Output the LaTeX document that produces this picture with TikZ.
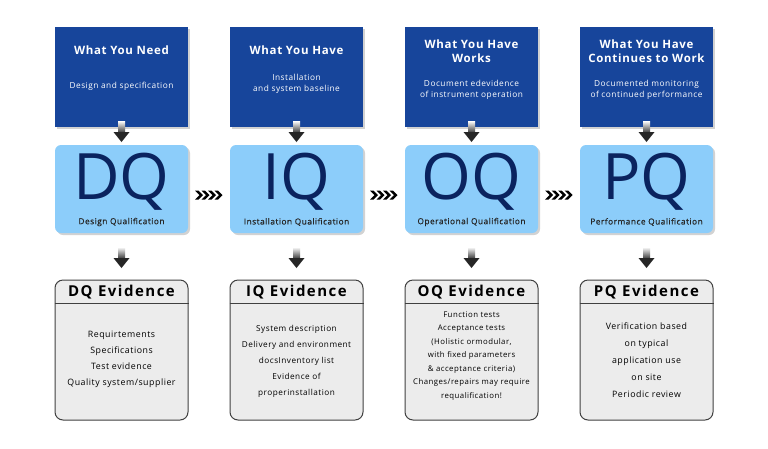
\documentclass[tikz,border=0pt]{standalone}
\usepackage{fontspec}
\setmainfont{Open Sans}
\usetikzlibrary{shadows,calc}
\definecolor{topblue}{RGB}{23,69,155}
\definecolor{midblue}{RGB}{140,205,250}
\definecolor{qtext}{RGB}{10,35,95}
\definecolor{evgray}{RGB}{236,236,236}
\newcommand{\lsp}{\addfontfeatures{LetterSpace=6}}
\tikzset{
 px/.style={x=1pt,y=-1pt},
 topbox/.style={fill=topblue,minimum width=133pt,minimum height=100pt,inner sep=0pt,drop shadow={opacity=0.35,shadow xshift=2pt,shadow yshift=-2pt}},
 midbox/.style={fill=midblue,rounded corners=6pt,minimum width=133pt,minimum height=88pt,inner sep=0pt,drop shadow={opacity=0.35,shadow xshift=2pt,shadow yshift=-2pt}},
 evbox/.style={fill=evgray,draw=black!75,line width=1pt,rounded corners=8pt,minimum width=133pt,minimum height=140pt,inner sep=0pt},
 ttl/.style={white,font=\fontsize{11.5}{14}\selectfont\bfseries\lsp,align=center},
 sub/.style={white,font=\fontsize{8.3}{11}\selectfont\lsp,align=center},
 big/.style={qtext,font=\fontsize{64}{64}\selectfont,inner sep=0pt,text height=46pt,text depth=0pt,anchor=base},
 qsub/.style={black!85,inner sep=1pt,font=\fontsize{8.3}{9}\selectfont\addfontfeatures{LetterSpace=6,FakeBold=0.5}},
 evt/.style={black,font=\fontsize{15}{16}\selectfont\bfseries\addfontfeatures{LetterSpace=10}},
 evl/.style={black,font=\fontsize{8.8}{10}\selectfont\lsp,align=center},
 dnarrow/.pic={\shade[top color=white,bottom color=black!80] (-3.5,-11) rectangle (3.5,1);
   \fill[black!85] (-8,0) -- (8,0) -- (0,10) -- cycle;},
 chev/.pic={\foreach \i in {0,6.5,13,19.5}{\fill[black] (\i,-4.5) -- (\i+3.5,-4.5) -- (\i+8,0) -- (\i+3.5,4.5) -- (\i,4.5) -- (\i+4.5,0) -- cycle;}},
}
\begin{document}
\begin{tikzpicture}[px]
\useasboundingbox (0,0) rectangle (768,448);
\fill[white] (0,0) rectangle (768,448);
\foreach \n/\x/\T/\S/\ty/\sy/\Q/\QS/\E in {
 1/121.5/{What You Need}/{Design and specification}/50/86/DQ/Design Qualification/DQ,
 2/296.5/{What You Have}/{Installation\\and system baseline}/50/84/IQ/Installation Qualification/IQ,
 3/471.5/{What You Have\\Works}/{Document edevidence\\of instrument operation}/51/90/OQ/Operational Qualification/OQ,
 4/646.5/{What You Have\\Continues to Work}/{Documented monitoring\\of continued performance}/51/90/PQ/Performance Qualification/PQ}{
 \node[topbox] (t\n) at (\x,77) {};
 \node[ttl] (tt\n) at (\x,\ty) {\T};
 \node[sub] (ts\n) at (\x,\sy) {\S};
 \node[midbox] (m\n) at (\x,189) {};
 \node[big] (q\n) at (\x,199) {\Q};
 \node[qsub] (qs\n) at (\x,222) {\QS};
 \node[evbox] (e\n) at (\x,350) {};
 \draw[black!75,line width=1pt] (e\n.west|-0,303) -- (e\n.east|-0,303);
 \node[evt] (et\n) at (\x,292) {\E\ Evidence};
 \pic at (\x,132) {dnarrow};
 \pic at (\x,258) {dnarrow};
}
\node[evl] (l1) at (121.5,359) {Requirtements\\[6pt]Specifications\\[6pt]Test evidence\\[6pt]Quality system/supplier};
\node[evl,font=\fontsize{8.2}{10}\selectfont\lsp] (l2) at (296.5,361) {System description\\[6pt]Delivery and environment\\[6pt]docsInventory list\\[6pt]Evidence of\\[6pt]properinstallation};
\node[evl,font=\fontsize{7.8}{13.5}\selectfont\lsp] (l3) at (471.5,356) {Function tests\\Acceptance tests\\(Holistic ormodular,\\with fixed parameters\\\& acceptance criteria)\\Changes/repairs may require\\requalification!};
\node[evl,font=\fontsize{8.8}{10}\selectfont\lsp] (l4) at (646.5,360) {Verification based\\[7pt]on typical\\[7pt]application use\\[7pt]on site\\[7pt]Periodic review};
\foreach \x in {195,370,545}{\pic at (\x,195) {chev};}
\end{tikzpicture}
\end{document}
